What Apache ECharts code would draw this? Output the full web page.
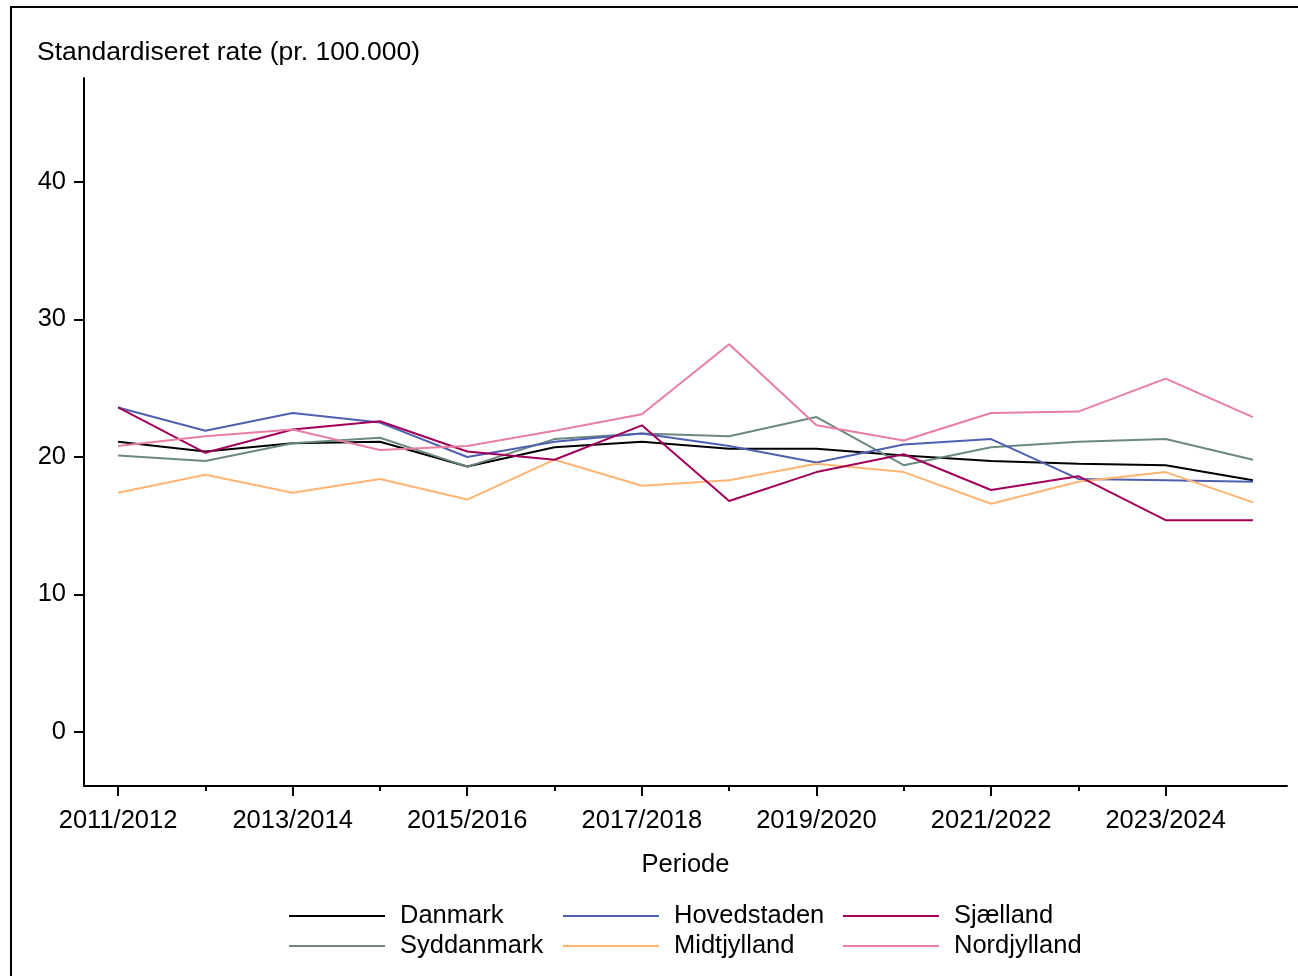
<!DOCTYPE html>
<html>
<head>
<meta charset="utf-8">
<script src="https://cdn.jsdelivr.net/npm/echarts@6/dist/echarts.min.js"></script>
<style>
  html, body { margin: 0; padding: 0; background: #fff; }
  #chart { width: 1298px; height: 976px; }
</style>
</head>
<body>
<div id="chart"></div>
<script>
// Periods on the x axis (two-year windows)
const periods = [
  '2011/2012', '2012/2013', '2013/2014', '2014/2015', '2015/2016', '2016/2017', '2017/2018',
  '2018/2019', '2019/2020', '2020/2021', '2021/2022', '2022/2023', '2023/2024', '2024/2025'
];

// Standardised rate per 100,000 by region
const danmark     = [21.1, 20.4, 21.0, 21.1, 19.3, 20.7, 21.1, 20.6, 20.6, 20.1, 19.7, 19.5, 19.4, 18.3];
const hovedstaden = [23.6, 21.9, 23.2, 22.5, 20.0, 21.1, 21.7, 20.8, 19.6, 20.9, 21.3, 18.4, 18.3, 18.2];
const sjaelland   = [23.6, 20.3, 22.0, 22.6, 20.4, 19.8, 22.3, 16.8, 18.9, 20.2, 17.6, 18.6, 15.4, 15.4];
const syddanmark  = [20.1, 19.7, 21.0, 21.4, 19.3, 21.3, 21.7, 21.5, 22.9, 19.4, 20.7, 21.1, 21.3, 19.8];
const midtjylland = [17.4, 18.7, 17.4, 18.4, 16.9, 19.8, 17.9, 18.3, 19.5, 18.9, 16.6, 18.2, 18.9, 16.7];
const nordjylland = [20.8, 21.5, 22.0, 20.5, 20.8, 21.9, 23.1, 28.2, 22.3, 21.2, 23.2, 23.3, 25.7, 22.9];

// Axis tick values
const yTicks = [0, 10, 20, 30, 40];
const xMajorTicks = [0, 2, 4, 6, 8, 10, 12];
const xMinorTicks = [1, 3, 5, 7, 9, 11];

const FONT = '"Liberation Sans", Arial, sans-serif';
const FS = 25.5;

const seriesDefs = [
  { name: 'Danmark',     data: danmark,     color: '#000000' },
  { name: 'Syddanmark',  data: syddanmark,  color: '#6b8883' },
  { name: 'Hovedstaden', data: hovedstaden, color: '#4f60b0' },
  { name: 'Midtjylland', data: midtjylland, color: '#ffb472' },
  { name: 'Sjælland',    data: sjaelland,   color: '#a3005a' },
  { name: 'Nordjylland', data: nordjylland, color: '#e87ea1' }
];

const chart = echarts.init(document.getElementById('chart'), null, { renderer: 'canvas' });

function legendAt(left, names) {
  return {
    orient: 'vertical',
    left: left,
    top: 901,
    padding: 0,
    data: names,
    icon: 'rect',
    itemWidth: 96,
    itemHeight: 2,
    itemGap: 0,
    selectedMode: false,
    textStyle: {
      fontFamily: FONT, fontSize: FS, color: '#000',
      lineHeight: 30, padding: [0, 0, 0, 10]
    }
  };
}

const option = {
  backgroundColor: '#fff',
  animation: false,
  title: {
    text: 'Standardiseret rate (pr. 100.000)',
    left: 32,
    top: 34,
    textStyle: { fontFamily: FONT, fontSize: 26.5, fontWeight: 'normal', color: '#000' }
  },
  graphic: [{
    type: 'rect',
    shape: { x: 11, y: 7, width: 1400, height: 1100 },
    style: { fill: null, stroke: '#000', lineWidth: 2 },
    silent: true
  }],
  legend: [
    legendAt(289, ['Danmark', 'Syddanmark']),
    legendAt(563, ['Hovedstaden', 'Midtjylland']),
    legendAt(843, ['Sjælland', 'Nordjylland'])
  ],
  grid: { left: 84, right: 11, top: 78, bottom: 190, containLabel: false },
  xAxis: [{
    type: 'value',
    min: -0.39,
    max: 13.39,
    name: 'Periode',
    nameLocation: 'middle',
    nameGap: 66,
    nameTextStyle: { fontFamily: FONT, fontSize: FS, color: '#000' },
    axisLine: { show: true, onZero: false, lineStyle: { color: '#000', width: 2 } },
    axisTick: { show: true, customValues: xMajorTicks, length: 10, lineStyle: { color: '#000', width: 2 } },
    axisLabel: {
      customValues: xMajorTicks,
      formatter: v => periods[v],
      fontFamily: FONT, fontSize: FS, color: '#000', margin: 22
    },
    splitLine: { show: false }
  }, {
    // short ticks for the unlabelled periods
    type: 'value',
    position: 'bottom',
    min: -0.39,
    max: 13.39,
    axisLine: { show: false, onZero: false },
    axisTick: { show: true, customValues: xMinorTicks, length: 5, lineStyle: { color: '#000', width: 2 } },
    axisLabel: { show: false },
    splitLine: { show: false }
  }],
  yAxis: {
    type: 'value',
    min: -3.93,
    max: 47.56,
    axisLine: { show: true, onZero: false, lineStyle: { color: '#000', width: 2 } },
    axisTick: { show: true, customValues: yTicks, length: 10, lineStyle: { color: '#000', width: 2 } },
    axisLabel: { customValues: yTicks, fontFamily: FONT, fontSize: FS, color: '#000', margin: 18 },
    splitLine: { show: false }
  },
  series: seriesDefs.map(s => ({
    name: s.name,
    type: 'line',
    symbol: 'none',
    data: s.data.map((v, i) => [i, v]),
    itemStyle: { color: s.color },
    lineStyle: { color: s.color, width: 2 },
    emphasis: { disabled: true }
  }))
};

chart.setOption(option);
</script>
</body>
</html>
